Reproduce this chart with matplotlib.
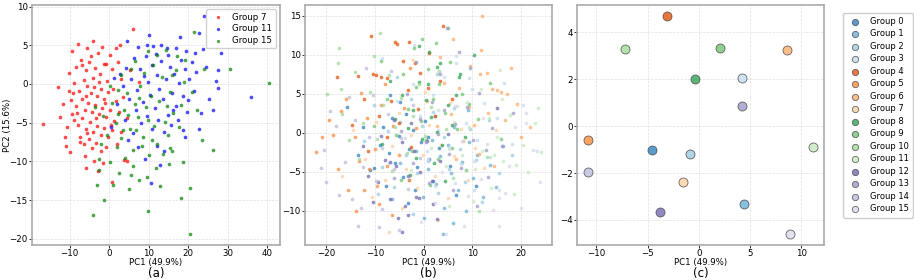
import matplotlib
matplotlib.use("Agg")
import matplotlib.pyplot as plt
import numpy as np

# ---------------- Panel (a) data: groups 7, 11, 15 ----------------
A_G7 = [(6.1,7.05),(-16.7,-5.2),(-12.9,-0.35),(-10.1,1.4),(-9.3,-3.9),(-11,-7.95),(-9.9,-8.8),(-6,-10.9),
        (0.8,-12.7),(-2.9,4.0),(1.6,4.7),(2.7,5.0),(-7.4,-7.5),(3.8,-9.8),(-11.1,-6.8),(4.4,-10),(7.6,0.3),
        (-8.5,2.2),(-7.2,3.1),(-6.0,1.8),(-5.1,2.9),(-4.2,0.8),(-3.5,2.1),(-2.4,1.3),(-1.2,2.6),(-0.5,0.4),
        (0.6,1.9),(-8.8,0.1),(-7.6,-0.9),(-6.4,0.5),(-5.5,-0.3),(-4.7,-1.2),(-3.9,-0.4),(-3.0,-1.6),(-2.1,-0.7),
        (-1.3,-1.9),(-0.4,-1.0),(0.9,-0.6),(1.8,-2.2),(-9.6,-2.1),(-8.3,-2.8),(-7.0,-2.0),(-6.2,-3.3),(-5.3,-2.4),
        (-4.4,-3.6),(-3.6,-2.7),(-2.7,-3.9),(-1.8,-3.1),(-0.9,-4.3),(0.2,-3.4),(1.2,-4.8),(-8.9,-4.6),(-7.8,-5.3),
        (-6.8,-4.4),(-5.9,-5.8),(-4.9,-4.9),(-4.0,-6.2),(-3.1,-5.4),(-2.2,-6.6),(-1.4,-5.7),(-0.3,-6.9),(0.8,-6.0),
        (-7.3,-6.9),(-6.5,-7.8),(-5.2,-7.1),(-4.3,-8.3),(-3.3,-7.6),(-2.0,-8.6),(-0.8,-8.1),(-6.1,-9.3),(-3.8,-9.9),
        (-1.6,-10.2),(-9.4,4.3),(-7.9,5.2),(-5.6,4.6),(-4.0,5.6),(-1.9,4.8),(0.1,3.8),(2.2,2.9),(2.9,0.6),(3.4,-1.7),
        (2.6,-3.6),(3.0,-6.2),(-11.8,-2.6),(-12.4,-4.3),(-10.6,-5.6),(-10.2,-0.9),(-9.1,-1.2),(-5.8,-1.6),(-2.6,0.2),
        (-4.6,3.6),(-6.9,2.5),(-8.2,-3.7),(-1.0,-2.5),(0.5,-5.3),(-3.4,-4.4),(-5.5,-6.3),(1.9,-7.8),(-2.8,-11.3),
        (4.5,-4.4),(5.2,1.8),(-0.7,2.6)]
A_G11 = [(24,8.8),(28.3,4.0),(27.6,1.8),(27,0.33),(27.6,-0.5),(35.8,-1.7),(26.3,-3.3),(23.2,-3.8),(22.8,-5.8),
         (23.8,4.5),(4.4,5.55),(10.7,-12.8),(12,-8.0),(19.1,-6.9),(7.3,4.8),(9.5,5.0),(11.2,4.9),(13.0,5.0),
         (14.6,4.7),(16.8,4.6),(19.5,4.3),(4.2,2.1),(5.6,0.6),(6.3,3.3),(7.1,-0.8),(7.8,1.9),(8.5,-2.3),(9.2,3.6),
         (9.8,0.2),(10.4,-1.4),(10.9,2.5),(11.5,-3.1),(12.1,1.1),(12.6,-0.6),(13.2,3.0),(13.7,-2.0),(14.3,0.7),
         (14.8,-4.0),(15.4,2.2),(15.9,-1.1),(16.5,1.3),(17.0,-2.9),(17.6,0.1),(18.1,3.1),(18.7,-1.5),(19.2,1.9),
         (19.8,-3.6),(20.3,0.6),(20.9,2.8),(21.5,-0.9),(22.1,1.5),(6.8,-3.4),(8.0,-5.1),(9.5,-4.2),(10.8,-5.8),
         (12.4,-4.7),(13.9,-6.2),(15.6,-5.3),(17.3,-4.6),(18.8,-5.9),(5.1,-1.9),(3.5,-0.3),(2.8,1.3),(3.9,-4.6),
         (6.0,-6.3),(11.8,3.9),(15.0,3.8),(16.2,-3.3),(8.9,1.0),(20.0,-2.1),(24.6,2.2),(25.3,-1.9),(21.7,4.0),
         (14.0,-8.6),(7.3,-8.2),(9.1,-9.7),(12.9,-10.5),(4.8,-7.2),(2.0,-2.6),(1.1,0.8),(17.9,6.1),(22.8,6.6),
         (10.0,6.3),(0.5,-5.5)]
A_G15 = [(21.5,6.7),(30.6,2.0),(40.4,0.1),(26.2,-8.55),(20.4,-13.5),(18.2,-14.7),(20.4,-19.4),(18.7,-10.1),
         (15.1,-10.3),(15.5,-8.3),(9.7,-16.4),(-1.3,-15),(-4.0,-16.9),(-3.2,-13),(-2.7,-11.1),(2.5,-11.5),
         (5.5,-11.8),(7.5,-12.4),(9.5,-12),(-2.7,-9.7),(12,3.8),(14.5,4.4),(17.2,3.6),(19.3,3.1),(9.8,4.2),(6.5,3.0),
         (0.8,-2.5),(1.6,-5.1),(2.3,-0.8),(3.1,-7.0),(3.8,-3.4),(4.5,-1.2),(5.2,-5.8),(5.9,-8.5),(6.6,-2.6),
         (7.2,-4.3),(7.9,-0.3),(8.6,-6.9),(9.3,-3.0),(10.0,-9.2),(10.6,-1.6),(11.3,-5.4),(12.0,-7.7),(12.7,-2.2),
         (13.4,0.9),(14.1,-4.9),(14.8,-6.6),(15.5,-1.0),(16.2,-3.8),(16.9,1.8),(17.6,-5.5),(18.3,-2.7),(19.0,0.3),
         (4.1,-9.6),(1.9,-8.2),(-0.6,-6.6),(-1.5,-4.1),(0.3,-10.1),(6.1,-10.6),(8.2,-8.0),(11.8,-10.9),(13.6,-9.0),
         (2.9,1.2),(5.4,1.9),(8.8,1.4),(11.1,2.4),(6.9,-6.0),(9.8,-4.7),(4.7,-4.0),(3.4,-5.9),(7.6,-1.8),(10.9,-7.2),
         (14.6,-2.9),(0.2,-0.2),(-2.0,-7.8),(2.1,-3.9),(16.0,-8.7),(12.9,-13.2),(5.0,-13.6),(1.0,-13.0),(22.3,-3.4),
         (21.0,-1.0),(23.5,-7.3),(15.8,1.2),(-3.6,-3.0),(24.0,1.9)]
A_LABELS = ["Group 7", "Group 11", "Group 15"]
A_COLORS = ["red", "blue", "green"]

# ---------------- Panel (b) data: all 16 groups ----------------
B0 = [(-15.6,3.3),(-11,-4.8),(-10.2,-4.5),(-8.3,0.8),(-7.1,-2.6),(-6.4,1.9),(-5.8,-3.9),(-5.0,-0.4),(-4.3,-5.7),
      (-3.6,2.4),(-2.9,-2.1),(-2.1,0.3),(-1.4,-4.4),(-0.6,-1.2),(0.3,1.5),(1.2,-3.3),(2.0,-6.2),(-9.0,-1.6),
      (-12.4,0.7),(-7.7,-6.8),(-4.9,3.9),(-1.8,-7.4),(0.8,-0.6),(3.1,-2.0),(-6.9,4.8),(-3.2,-9.0),(5.4,-4.3),
      (-13.5,-2.9),(6.7,-8.0),(10.7,-6.8)]
B1 = [(-3.0,-6.1),(-1.5,-2.4),(-0.2,-8.3),(0.9,-4.7),(1.8,-0.9),(2.6,-6.6),(3.4,-3.0),(4.1,-9.6),(4.9,-1.6),
      (5.6,-5.2),(6.3,0.8),(7.1,-7.4),(7.8,-3.7),(8.6,-10.1),(9.3,-1.2),(10.1,-5.8),(11.0,-2.9),(12.2,-8.2),
      (13.5,-4.1),(2.3,2.2),(-4.8,-3.9),(6.0,-11.6),(14.8,-6.9),(0.1,-10.9),(9.0,2.9),(-6.5,-8.5),(16.0,-1.7),
      (3.9,-13.0)]
B2 = [(-12.3,-1.0),(-10.1,3.6),(-8.6,-4.4),(-7.3,0.2),(-6.0,-6.9),(-4.8,1.4),(-3.6,-2.8),(-2.5,4.3),(-1.4,-5.1),
      (-0.3,0.9),(0.8,-3.6),(1.9,2.7),(3.0,-7.7),(4.1,-0.5),(5.2,-4.6),(6.3,3.2),(7.4,-2.1),(8.5,-6.3),(9.6,0.5),
      (10.8,-3.5),(12.0,-8.9),(-5.5,7.2),(2.7,7.6),(-9.4,-7.9),(13.3,1.6),(-2.2,-10.4),(15.5,-5.1),(18.2,-2.9)]
B3 = [(-8.6,9.6),(6.6,9.8),(6.7,8.9),(9.3,7.0),(-5.4,4.1),(-3.9,-0.7),(-2.2,6.3),(-0.7,2.1),(0.7,-2.4),(1.9,4.8),
      (3.0,0.3),(4.2,7.2),(5.3,-1.8),(6.4,3.4),(7.6,-4.0),(8.7,1.2),(9.9,5.6),(11.0,-0.9),(12.3,3.8),(13.6,-3.1),
      (15.0,1.9),(16.4,6.4),(18.1,-1.4),(-1.9,11.3),(2.4,-6.8),(10.3,-7.3),(20.4,3.6),(-7.1,-3.9)]
B4 = [(-10.8,12.4),(-5.9,11.6),(-5.5,11.4),(-3.0,11.7),(-4.2,9.2),(-1.8,9.0),(-13.4,7.3),(-10.4,7.6),(-9.8,7.4),
      (-7.5,7.0),(-8.7,7.1),(-6.6,4.1),(-0.8,7.7),(3.3,6.6),(3.9,13.7),(-17.7,7.2),(-12.2,4.3),(-9.2,2.1),
      (-5.1,1.3),(-3.2,5.5),(-1.2,3.0),(0.9,5.8),(2.4,2.2),(-7.4,-0.6),(-2.6,-1.8),(5.8,4.4),(-14.6,1.0),
      (1.1,10.2),(-11.3,-2.4)]
B5 = [(-20.8,-0.6),(-22.0,-2.5),(-18.6,-0.3),(-15.4,-7.3),(-12.3,-7.3),(-9.5,-6.8),(-14.0,-0.5),(-16.9,2.8),
      (-13.2,-3.6),(-11.6,1.9),(-10.0,-2.1),(-8.7,3.6),(-7.5,-4.2),(-6.3,0.9),(-5.0,-2.9),(-12.8,5.1),(-9.1,-9.1),
      (-17.5,-4.6),(-4.1,3.2),(-15.9,4.4),(-19.3,1.7),(-7.9,6.2),(-3.0,-6.1),(-11.1,-4.7),(-13.9,-10.1),
      (-6.4,-10.5),(-1.5,0.6),(-2.7,8.3)]
B6 = [(11.9,15.0),(6.1,12.1),(11.8,10.6),(18.0,8.3),(11.6,7.5),(12.9,7.7),(14.1,5.6),(15.0,5.5),(15.8,5.2),
      (17.0,5.0),(7.3,5.8),(21.7,0.8),(19.9,-0.6),(9.2,3.3),(10.4,1.0),(5.6,2.4),(4.1,6.4),(8.1,-1.1),(13.2,2.6),
      (16.6,1.7),(2.8,0.9),(6.7,-3.4),(11.3,-2.7),(0.7,4.1),(14.4,-4.2),(19.1,3.7),(9.5,8.6),(3.4,9.7)]
B7 = [(-7.0,-12.7),(-12.1,-3.3),(-9.7,1.4),(-8.0,-6.0),(-6.4,-1.7),(-5.0,2.6),(-3.7,-4.6),(-2.5,-0.3),(-1.3,-7.1),
      (-0.1,-2.8),(1.1,1.0),(2.4,-5.5),(3.6,-1.6),(4.9,-8.4),(6.2,-3.0),(7.6,0.5),(9.0,-6.0),(10.5,-1.9),
      (-14.5,0.4),(-4.4,-9.6),(-10.6,-8.2),(0.3,5.2),(12.3,-4.5),(5.5,3.8),(-2.1,9.4),(-16.8,-5.6),(14.9,0.3),
      (3.0,-11.2)]
B8 = [(10.4,10.0),(7.2,7.2),(7.5,7.5),(2.8,8.5),(3.3,8.9),(-1.0,6.5),(0.4,4.2),(1.6,2.0),(2.7,0.1),(3.8,-1.6),
      (4.9,3.6),(-0.4,-0.8),(-2.1,2.9),(-3.3,0.6),(-4.5,4.9),(-1.6,-3.2),(0.9,6.3),(5.8,1.0),(-5.9,1.8),(-2.7,-5.4),
      (2.1,-3.9),(6.7,4.8),(-6.8,6.7),(1.2,10.4),(4.3,-6.2),(-0.9,11.2),(8.4,-0.5),(-8.5,-1.5)]
B9 = [(-0.3,12.1),(2.6,11.5),(-2.0,10.9),(-4.3,7.6),(-1.6,5.9),(0.8,8.2),(3.2,6.3),(5.5,9.1),(7.9,5.0),(-3.1,3.1),
      (-0.6,1.5),(1.9,4.4),(4.3,2.6),(6.8,0.5),(9.2,3.7),(-5.7,-0.3),(-2.4,-2.4),(0.4,-0.9),(3.0,-3.3),(5.9,-1.9),
      (8.6,-4.8),(11.2,1.8),(-7.6,4.3),(-8.8,9.2),(13.6,6.4),(4.9,13.4),(-10.1,0.9),(1.3,-6.7),(15.8,-0.8),
      (-4.7,-6.0)]
B10 = [(-17.4,10.9),(-17.6,9.0),(-16.9,5.6),(-16.8,2.4),(-14.1,7.8),(-12.5,1.3),(-11.0,5.2),(-9.6,-0.8),(-8.4,3.6),
       (-7.1,7.4),(-5.8,0.7),(-4.6,4.5),(-3.4,-2.6),(-2.2,2.1),(-1.0,6.2),(0.3,-0.4),(1.6,3.3),(-13.3,-3.4),
       (-10.2,9.9),(-6.4,-4.9),(3.1,7.9),(-15.2,-0.9),(-19.7,5.0),(4.6,0.5),(-8.9,12.8),(12.9,-3.1),(11.4,-10.0),
       (6.1,-5.8)]
B11 = [(12.0,-2.4),(14.5,-2.8),(16.2,-3.6),(19.0,-4.1),(23.4,3.2),(22.9,1.2),(16.1,4.4),(9.2,0.7),(10.6,-4.6),
       (13.3,1.9),(15.1,-0.5),(17.6,2.3),(20.4,-1.6),(7.8,-2.9),(8.9,3.9),(11.7,5.6),(6.2,1.4),(4.6,-4.2),
       (13.9,-7.1),(18.5,-7.8),(21.3,-5.0),(10.2,-8.8),(24.0,-2.5),(2.9,2.9),(15.7,8.1),(5.3,-9.4),(1.5,-1.9),
       (-2.5,-4.8)]
B12 = [(-5.2,-10.9),(-3.2,-10.6),(-3.9,-9.4),(-1.6,-8.2),(-1.0,-8.4),(1.9,-9.1),(-6.9,-8.5),(-9.3,-6.3),
       (-11.3,-5.6),(-7.9,-3.5),(-6.8,-3.8),(-5.6,-4.2),(-4.5,-1.2),(-3.1,-5.6),(-2.0,-2.3),(-0.7,-5.0),(0.6,-1.0),
       (1.8,-6.2),(-8.8,-0.4),(-6.0,1.6),(-2.6,1.2),(3.4,-3.6),(-10.4,-8.9),(5.0,-0.2),(-4.4,-12.7),(-12.5,-1.7),
       (2.8,-11.1),(15.0,3.2)]
B13 = [(-2.1,-3.9),(-0.8,1.8),(0.5,-1.2),(1.7,4.0),(2.9,-0.2),(4.1,2.9),(5.3,-2.7),(6.5,1.1),(7.7,-4.5),(8.9,3.3),
       (10.1,-0.9),(11.4,5.1),(12.7,-2.2),(14.0,0.6),(3.4,7.6),(-3.4,5.0),(6.0,-7.3),(9.5,8.3),(13.1,-5.7),
       (-4.7,0.2),(1.0,-6.5),(16.3,-1.7),(7.2,10.4),(-1.5,9.1),(18.4,2.6),(-6.1,-5.8),(10.9,-9.4),(4.8,13.5)]
B14 = [(-20.1,-6.3),(-20.5,-2.2),(-14.7,-8.5),(-12.8,-9.6),(-8.6,-9.8),(-18.0,0.9),(-16.2,-3.7),(-14.0,1.7),
       (-12.5,-4.4),(-11.1,-0.6),(-9.8,-6.2),(-8.5,-1.9),(-7.2,2.4),(-6.0,-4.6),(-4.7,-0.7),(-15.3,4.6),
       (-10.3,4.8),(-3.3,-7.2),(-17.4,-8.0),(-2.1,3.6),(-13.4,-12.0),(-19.1,2.8),(-6.6,7.9),(-0.7,-3.2),
       (-9.2,-12.1),(-21.0,-4.5),(-5.1,-12.5),(-11.9,8.3)]
B15 = [(15.4,-12.0),(23.9,-6.3),(15.4,-7.3),(16.6,-7.7),(15.4,-8.4),(22.5,-2.2),(23.3,-2.4),(21.0,2.6),(21.0,1.2),
       (18.8,0.8),(5.2,-2.1),(6.5,-6.4),(7.8,-1.0),(9.1,-8.1),(10.4,-3.6),(11.7,-5.9),(13.0,-1.4),(14.3,-9.9),
       (3.8,-5.0),(2.4,-9.0),(0.9,-3.3),(8.2,-11.9),(12.2,1.9),(17.5,-4.3),(19.9,-9.6),(-0.6,-11.4),(6.8,3.5),
       (4.5,-13.0)]
B_GROUPS = [B0, B1, B2, B3, B4, B5, B6, B7, B8, B9, B10, B11, B12, B13, B14, B15]

# ---------------- Panel (c) data: group centroids ----------------
C_X = [-4.58, 4.38, -0.88, 4.22, -3.08, -10.8, 8.57, -1.59, -0.39, 2.05, -7.23, 11.1, -3.83, 4.19, -10.8, 8.9]
C_Y = [-1.02, -3.32, -1.19, 2.03, 4.69, -0.58, 3.22, -2.40, 2.01, 3.32, 3.26, -0.88, -3.66, 0.85, -1.97, -4.6]
GROUP_LABELS = [f"Group {i}" for i in range(16)]

XLABEL = "PC1 (49.9%)"
YLABEL = "PC2 (15.6%)"

# ---------------- figure ----------------
W, H = 914, 280
fig = plt.figure(figsize=(W / 100, H / 100), dpi=100)
cmap = plt.get_cmap("tab20c")
FS = 6.2

def px_axes(l, r, t, b):
    return fig.add_axes([l / W, 1 - b / H, (r - l) / W, (b - t) / H])

axA = px_axes(32, 280, 5, 245)
axB = px_axes(305, 552, 5, 245)
axC = px_axes(577, 824, 5, 245)

def style(ax):
    ax.grid(True, color="#cccccc", linestyle="--", linewidth=0.5, alpha=0.6)
    ax.set_axisbelow(True)
    for s in ax.spines.values():
        s.set_color("#aaaaaa")
        s.set_linewidth(1.2)
    ax.tick_params(labelsize=FS, length=2, width=0.7, color="#333333", pad=1)
    ax.set_xlabel(XLABEL, fontsize=FS)
    ax.xaxis.set_label_coords(0.5, -0.075)
    ax.xaxis.label.set_va("center")

# panel a
for pts, lab, col in zip([A_G7, A_G11, A_G15], A_LABELS, A_COLORS):
    arr = np.array(pts)
    axA.scatter(arr[:, 0], arr[:, 1], s=7, c=col, alpha=0.7, linewidths=0, label=lab)
style(axA)
axA.set_ylabel(YLABEL, fontsize=FS)
axA.yaxis.set_label_coords(-0.1, 0.5)
axA.yaxis.label.set_va("center")
axA.legend(loc="upper right", fontsize=FS, markerscale=0.9, handletextpad=0.6,
           borderpad=0.4, labelspacing=0.3, framealpha=0.9)

# panel b
for i, pts in enumerate(B_GROUPS):
    arr = np.array(pts)
    axB.scatter(arr[:, 0], arr[:, 1], s=7, color=cmap(i), alpha=0.75, linewidths=0)
style(axB)

# panel c
for i in range(16):
    axC.scatter(C_X[i], C_Y[i], s=42, color=cmap(i), alpha=0.8, edgecolors="#444444",
                linewidths=0.6, label=GROUP_LABELS[i], zorder=3)
style(axC)
axC.legend(loc="upper left", bbox_to_anchor=(1.06, 0.985), fontsize=6, labelspacing=0.42,
           handletextpad=0.7, borderpad=0.5, markerscale=0.7, framealpha=1.0)

for ax, lab in zip([axA, axB, axC], ["(a)", "(b)", "(c)"]):
    pos = ax.get_position()
    fig.text(pos.x0 + pos.width / 2, 1 - 273.5 / H, lab, ha="center", va="center", fontsize=8.5)

fig.savefig("out.png", dpi=100)
